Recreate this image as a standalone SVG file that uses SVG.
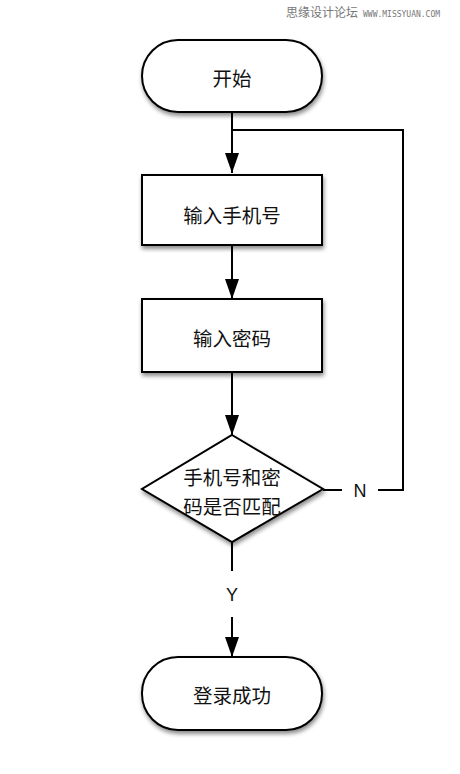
<svg xmlns="http://www.w3.org/2000/svg" width="460" height="774" viewBox="0 0 460 774">
<style>
.shape{fill:#fff;stroke:#000;stroke-width:2;filter:url(#sh)}
.lbl{font-family:"Noto Sans CJK SC","Liberation Sans",sans-serif;font-size:19.5px;fill:#111;text-anchor:middle;dominant-baseline:central}
.lat{font-family:"Liberation Sans","Noto Sans",sans-serif;font-size:18px;fill:#111;text-anchor:middle;dominant-baseline:central}
.ln{fill:none;stroke:#000;stroke-width:2}
</style>
<defs>
<filter id="sh" x="-20%" y="-20%" width="140%" height="150%">
<feDropShadow dx="1" dy="3" stdDeviation="2" flood-color="#000" flood-opacity="0.45"/>
</filter>
<marker id="arr" viewBox="0 0 20 14" refX="20" refY="7" markerWidth="20" markerHeight="14" markerUnits="userSpaceOnUse" orient="auto">
<path d="M0,0 L20,7 L0,14 Z" fill="#000"/>
</marker>
</defs>
<rect width="460" height="774" fill="#fff"/>
<text x="286" y="17" font-family="Noto Sans CJK SC,sans-serif" font-size="12" fill="#777">思缘设计论坛</text>
<text x="363" y="17" font-family="DejaVu Sans Mono,monospace" font-size="8" fill="#777">WWW.MISSYUAN.COM</text>
<g id="connectors">
<path class="ln" d="M232,112 V173" marker-end="url(#arr)"/>
<path class="ln" d="M232,245 V299" marker-end="url(#arr)"/>
<path class="ln" d="M232,372 V435" marker-end="url(#arr)"/>
<path class="ln" d="M323,490 H342"/>
<path class="ln" d="M378,490 H403 V130 H232"/>
<text class="lat" x="360" y="491">N</text>
<path class="ln" d="M232,542 V571"/>
<text class="lat" x="232" y="595">Y</text>
<path class="ln" d="M232,617 V657" marker-end="url(#arr)"/>
</g>
<g id="start">
<rect class="shape" x="142" y="40" width="180" height="72" rx="36" ry="36"/>
<text class="lbl" x="232" y="77">开始</text>
</g>
<g id="phone">
<rect class="shape" x="142" y="175" width="180" height="70"/>
<text class="lbl" x="232" y="214">输入手机号</text>
</g>
<g id="password">
<rect class="shape" x="142" y="299" width="180" height="73"/>
<text class="lbl" x="232" y="337">输入密码</text>
</g>
<g id="check">
<polygon class="shape" points="232,435 323,489 232,542 142,489"/>
<text class="lbl" x="232" y="476">手机号和密</text>
<text class="lbl" x="232" y="505">码是否匹配</text>
</g>
<g id="end">
<rect class="shape" x="142" y="657" width="180" height="73" rx="36" ry="36"/>
<text class="lbl" x="232" y="694">登录成功</text>
</g>
</svg>
